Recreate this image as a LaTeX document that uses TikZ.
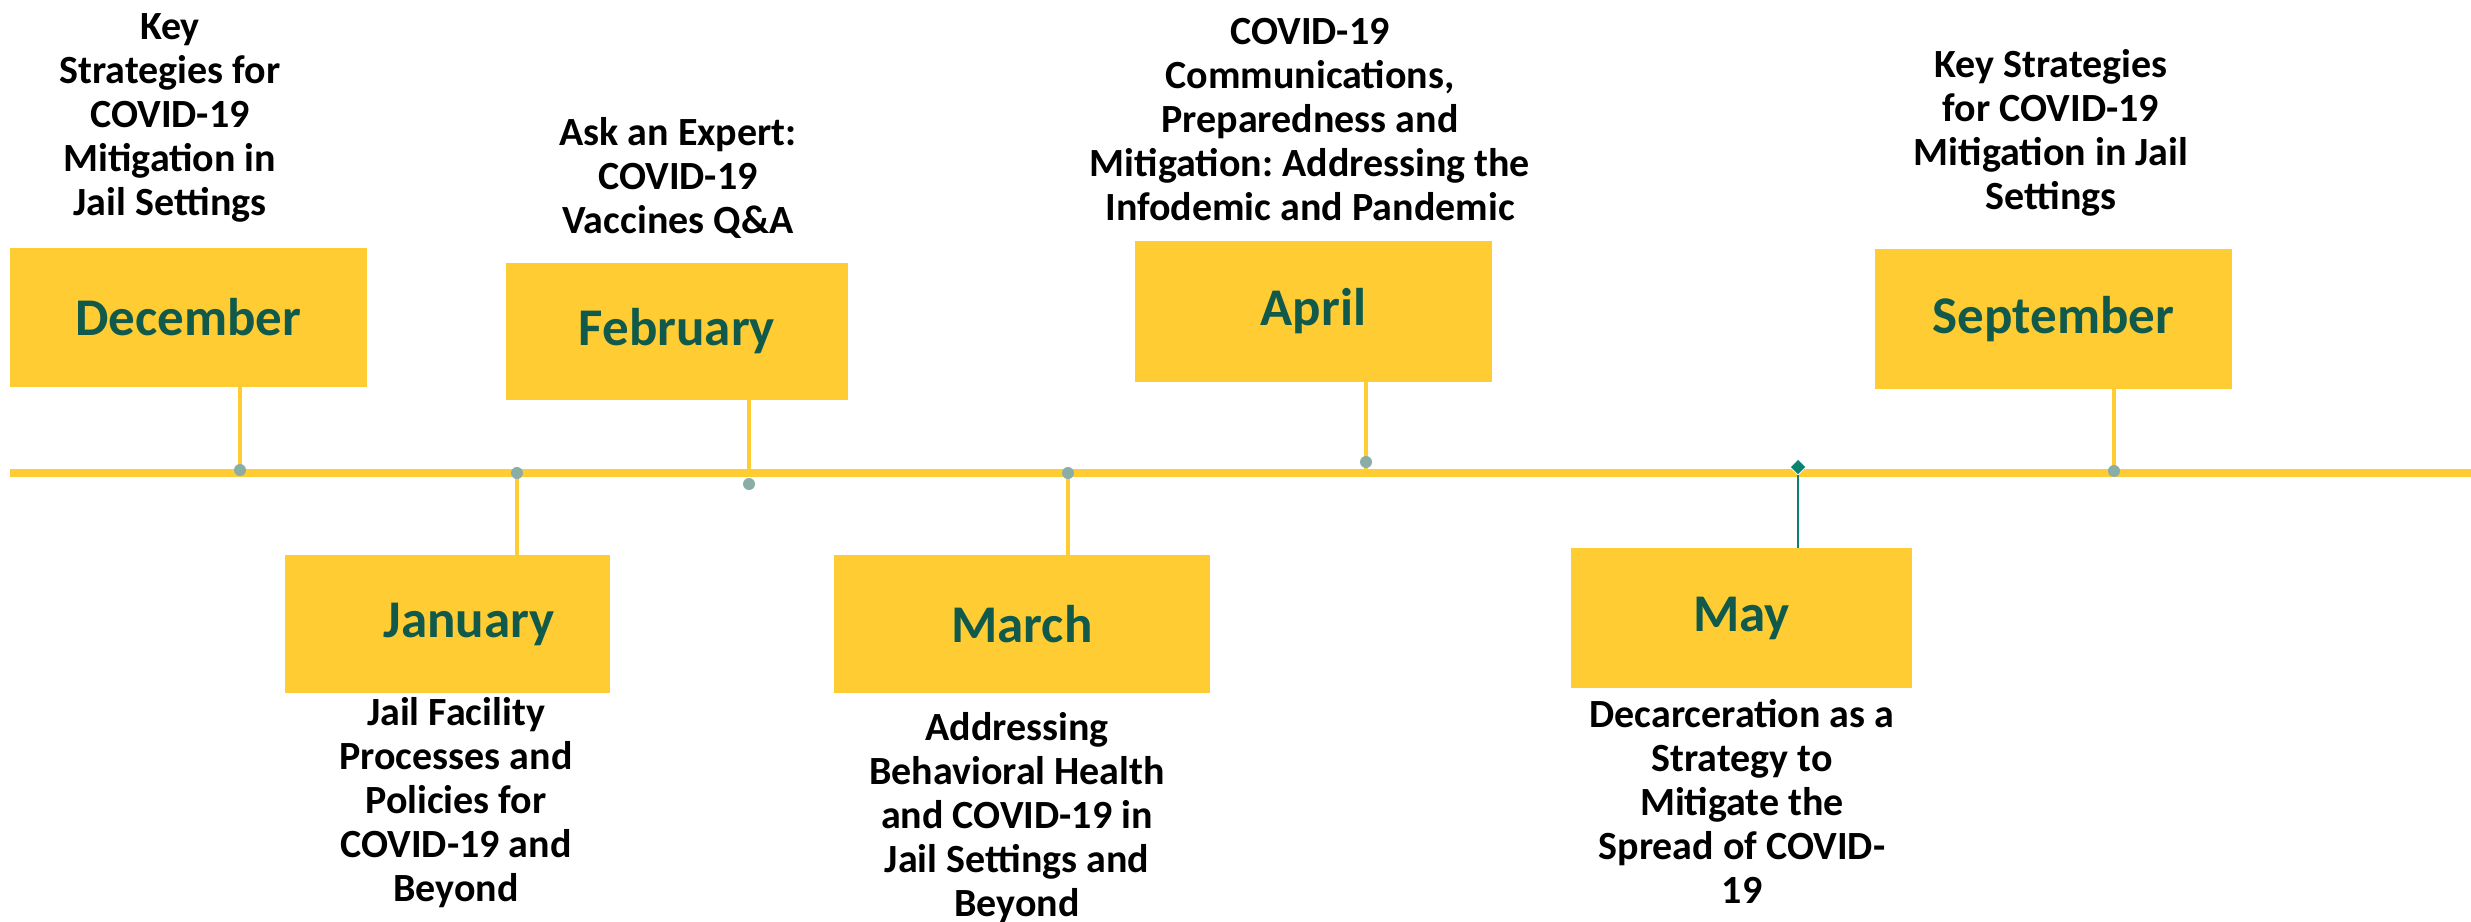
\documentclass[tikz,border=0pt]{standalone}
\usepackage{fontspec}
\setmainfont{Carlito}
\usetikzlibrary{shapes.geometric}
\definecolor{tlyellow}{HTML}{FFCC33}
\definecolor{tlgreen}{HTML}{115A4B}
\definecolor{tldot}{HTML}{8AAEA5}
\definecolor{tlteal}{HTML}{0A8272}
\frenchspacing
\begin{document}
\begin{tikzpicture}[x=1pt,y=-1pt,
  month/.style={fill=tlyellow, inner sep=0pt, text=tlgreen,
    font=\bfseries\fontsize{53}{60}\selectfont},
  desc/.style={align=center, inner sep=0pt, text=black,
    font=\bfseries\fontsize{40}{44}\selectfont},
  conn/.style={draw=tlyellow, line width=4pt},
  tdot/.style={circle, fill=tldot, inner sep=0pt, minimum size=12pt},
  tdiamond/.style={diamond, fill=tlteal, draw=white, line width=0.8pt, inner sep=0pt, minimum size=16pt}]
\useasboundingbox (0,0) rectangle (2471,921);
\fill[white] (0,0) rectangle (2471,921);

% timeline
\coordinate (tlL) at (10,473);
\coordinate (tlR) at (2471,473);
\draw[tlyellow, line width=8pt] (tlL) -- (tlR);

% boxes
\node[month, minimum width=357pt, minimum height=139pt] (dec) at (188.5,317.5) {December};
\node[month, minimum width=325pt, minimum height=138pt] (jan) at (447.5,624) {\hspace*{43pt}January};
\node[month, minimum width=342pt, minimum height=137pt] (feb) at (677,331) {February};
\node[month, minimum width=376pt, minimum height=138pt] (mar) at (1022,624) {March};
\node[month, minimum width=357pt, minimum height=141pt] (apr) at (1313.5,311.5) {April};
\node[month, minimum width=341pt, minimum height=140pt] (may) at (1741.5,618) {May};
\node[month, minimum width=357pt, minimum height=140pt] (sep) at (2053.5,319) {September};

% points on the timeline
\coordinate (pdec) at (240,473);
\coordinate (pjan) at (517,473);
\coordinate (pfeb) at (749,473);
\coordinate (pmar) at (1068,473);
\coordinate (papr) at (1366,473);
\coordinate (pmay) at (1798,473);
\coordinate (psep) at (2114,473);

% connectors
\draw[conn] (dec.south -| pdec) -- (pdec);
\draw[conn] (jan.north -| pjan) -- (pjan);
\draw[conn] (feb.south -| pfeb) -- (pfeb);
\draw[conn] (mar.north -| pmar) -- (pmar);
\draw[conn] (apr.south -| papr) -- (papr);
\draw[conn] (sep.south -| psep) -- (psep);

% dots
\node[tdot] (ddec) at (240,470) {};
\node[tdot] (djan) at (517,473) {};
\node[tdot] (dfeb) at (749,484) {};
\node[tdot] (dmar) at (1068,473) {};
\node[tdot] (dapr) at (1366,462) {};
\node[tdot] (dsep) at (2114,471) {};

% May marker
\node[tdiamond] (dmay) at (1798,467) {};
\draw[tlteal, line width=1.8pt] (dmay.south) -- (may.north -| dmay);

% descriptions
\node[desc] (tdec) at (170,118) {Key\\Strategies for\\COVID-19\\Mitigation in\\Jail Settings};
\node[desc] (tjan) at (456,803) {Jail Facility\\Processes and\\Policies for\\COVID-19 and\\Beyond};
\node[desc] (tfeb) at (678,178) {Ask an Expert:\\COVID-19\\Vaccines Q\&A};
\node[desc] (tmar) at (1017,818) {Addressing\\Behavioral Health\\and COVID-19 in\\Jail Settings and\\Beyond};
\node[desc] (tapr) at (1310,120) {COVID-19\\Communications,\\Preparedness and\\Mitigation: Addressing the\\Infodemic and Pandemic};
\node[desc] (tmay) at (1742,801) {Decarceration as a\\Strategy to\\Mitigate the\\Spread of COVID-\\19};
\node[desc] (tsep) at (2051,133) {Key Strategies\\for COVID-19\\Mitigation in Jail\\Settings};
\end{tikzpicture}
\end{document}
